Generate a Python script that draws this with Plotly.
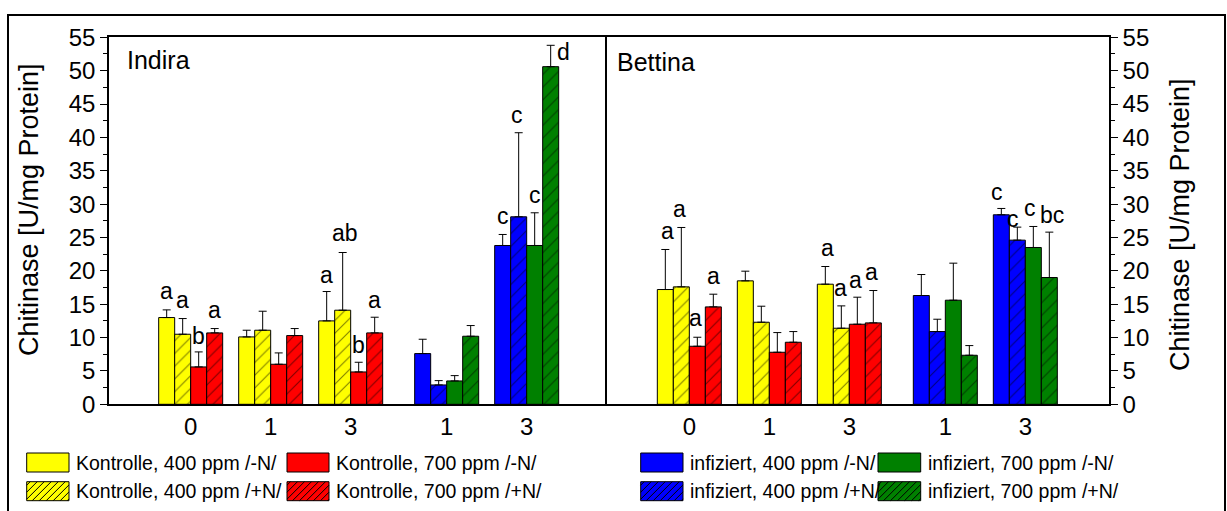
import plotly.graph_objects as go

W, H = 1227, 511
FONT = "Arial, Liberation Sans, sans-serif"

# x positions of the sampling groups (days), control and infected blocks
ctrl_pos = [1.0, 2.0, 3.0]
inf_pos = [4.2, 5.2]
tick_pos = ctrl_pos + inf_pos
tick_text = ["0", "1", "3", "1", "3"]

series_names = [
    "Kontrolle, 400 ppm /-N/", "Kontrolle, 400 ppm /+N/",
    "Kontrolle, 700 ppm /-N/", "Kontrolle, 700 ppm /+N/",
    "infiziert, 400 ppm /-N/", "infiziert, 400 ppm /+N/",
    "infiziert, 700 ppm /-N/", "infiziert, 700 ppm /+N/",
]
series_colors = ["#FFFF00", "#FFFF00", "#FF0000", "#FF0000",
                 "#0000FF", "#0000FF", "#008000", "#008000"]
series_hatched = [False, True, False, True, False, True, False, True]

# ---- Indira ----
ind_k400_mN = [13.0, 10.1, 12.5]
ind_k400_mN_err = [1.15, 1.0, 4.4]
ind_k400_pN = [10.5, 11.1, 14.1]
ind_k400_pN_err = [2.35, 2.85, 8.65]
ind_k700_mN = [5.6, 6.0, 4.85]
ind_k700_mN_err = [2.25, 1.7, 1.45]
ind_k700_pN = [10.7, 10.3, 10.7]
ind_k700_pN_err = [0.65, 1.05, 2.35]
ind_i400_mN = [7.6, 23.8]
ind_i400_mN_err = [2.15, 1.65]
ind_i400_pN = [2.9, 28.1]
ind_i400_pN_err = [0.65, 12.6]
ind_i700_mN = [3.5, 23.8]
ind_i700_mN_err = [0.8, 4.9]
ind_i700_pN = [10.2, 50.6]
ind_i700_pN_err = [1.6, 3.2]

# ---- Bettina ----
bet_k400_mN = [17.2, 18.5, 18.0]
bet_k400_mN_err = [6.0, 1.45, 2.65]
bet_k400_pN = [17.6, 12.3, 11.4]
bet_k400_pN_err = [8.9, 2.4, 3.35]
bet_k700_mN = [8.7, 7.8, 12.0]
bet_k700_mN_err = [1.35, 2.95, 4.05]
bet_k700_pN = [14.6, 9.3, 12.2]
bet_k700_pN_err = [1.9, 1.6, 4.85]
bet_i400_mN = [16.3, 28.4]
bet_i400_mN_err = [3.15, 0.95]
bet_i400_pN = [10.9, 24.6]
bet_i400_pN_err = [1.85, 1.95]
bet_i700_mN = [15.6, 23.5]
bet_i700_mN_err = [5.55, 3.15]
bet_i700_pN = [7.35, 19.0]
bet_i700_pN_err = [1.45, 6.8]

indira = [
    (ind_k400_mN, ind_k400_mN_err), (ind_k400_pN, ind_k400_pN_err),
    (ind_k700_mN, ind_k700_mN_err), (ind_k700_pN, ind_k700_pN_err),
    (ind_i400_mN, ind_i400_mN_err), (ind_i400_pN, ind_i400_pN_err),
    (ind_i700_mN, ind_i700_mN_err), (ind_i700_pN, ind_i700_pN_err),
]
bettina = [
    (bet_k400_mN, bet_k400_mN_err), (bet_k400_pN, bet_k400_pN_err),
    (bet_k700_mN, bet_k700_mN_err), (bet_k700_pN, bet_k700_pN_err),
    (bet_i400_mN, bet_i400_mN_err), (bet_i400_pN, bet_i400_pN_err),
    (bet_i700_mN, bet_i700_mN_err), (bet_i700_pN, bet_i700_pN_err),
]

# significance letters: (panel, group index, bar slot, text, y, x shift px)
letters = [
    (0, 0, 0, "a", 16.7, 0), (0, 0, 1, "a", 15.4, 0), (0, 0, 2, "b", 9.9, 0), (0, 0, 3, "a", 13.9, 0),
    (0, 2, 0, "a", 19.1, 0), (0, 2, 1, "ab", 25.4, 2), (0, 2, 2, "b", 8.6, 0), (0, 2, 3, "a", 15.4, 0),
    (0, 4, 0, "c", 27.9, 0), (0, 4, 1, "c", 43.1, -2), (0, 4, 2, "c", 31.1, 0), (0, 4, 3, "d", 52.5, 13),
    (1, 0, 0, "a", 25.6, 2), (1, 0, 1, "a", 28.9, -2), (1, 0, 2, "a", 12.6, -2), (1, 0, 3, "a", 18.9, 0),
    (1, 2, 0, "a", 23.1, 2), (1, 2, 1, "a", 17.1, -1), (1, 2, 2, "a", 18.4, -2), (1, 2, 3, "a", 19.6, -2),
    (1, 4, 0, "c", 31.5, -4), (1, 4, 1, "c", 27.5, -4), (1, 4, 2, "c", 29.1, -3), (1, 4, 3, "bc", 28.1, 3),
]
slot_offset = [-0.3, -0.1, 0.1, 0.3]


def px_x(p):
    return p / W


def px_y(p):
    return 1 - p / H


fig = go.Figure()

for panel, data, xa, ya in [(0, indira, "x", "y"), (1, bettina, "x2", "y2")]:
    for i, (vals, errs) in enumerate(data):
        xs = ctrl_pos if i < 4 else inf_pos
        pattern = dict(shape="/" if series_hatched[i] else "", fgcolor="black",
                       bgcolor=series_colors[i], size=9, solidity=0.12, fillmode="overlay")
        fig.add_trace(go.Bar(
            x=xs, y=vals, xaxis=xa, yaxis=ya,
            name=series_names[i], showlegend=False,
            offsetgroup=str(i % 4),
            marker=dict(color=series_colors[i], pattern=pattern,
                        line=dict(color="black", width=1)),
            error_y=dict(type="data", array=errs, arrayminus=[0] * len(errs),
                         symmetric=False, color="black", thickness=1, width=4),
        ))

annotations = []
for panel, g, slot, txt, yv, dx in letters:
    annotations.append(dict(
        x=tick_pos[g] + slot_offset[slot], y=yv,
        xref="x" if panel == 0 else "x2", yref="y" if panel == 0 else "y2",
        text=txt, showarrow=False, xanchor="center", yanchor="middle",
        xshift=dx, yshift=2, font=dict(family=FONT, size=23, color="black"),
    ))

# panel names
annotations.append(dict(x=px_x(125), y=px_y(60), xref="paper", yref="paper", text="Indira",
                        showarrow=False, xanchor="left", yanchor="middle",
                        font=dict(family=FONT, size=25, color="black")))
annotations.append(dict(x=px_x(615), y=px_y(62), xref="paper", yref="paper", text="Bettina",
                        showarrow=False, xanchor="left", yanchor="middle",
                        font=dict(family=FONT, size=25, color="black")))

# axis titles on both sides
for xc, yc in [(29, 210), (1180, 225)]:
    annotations.append(dict(x=px_x(xc), y=px_y(yc), xref="paper", yref="paper",
                            text="Chitinase [U/mg Protein]", textangle=-90, showarrow=False,
                            xanchor="center", yanchor="middle",
                            font=dict(family=FONT, size=27, color="black")))

# legend drawn as swatches with labels
shapes = []
leg_cols = [(26.7, 69.0), (287.0, 329.0), (640.7, 683.0), (878.0, 920.7)]
leg_rows = [(453.0, 472.0), (481.7, 500.7)]
legend_order = [[0, 2, 4, 6], [1, 3, 5, 7]]


def hatch_path(x0, y0, x1, y1, step=7.0):
    segs = []
    c = x0 + y0 + step / 2
    while c < x1 + y1:
        xa = max(x0, c - y1)
        xb = min(x1, c - y0)
        if xb > xa:
            segs.append("M{:.5f},{:.5f}L{:.5f},{:.5f}".format(
                px_x(xa), px_y(c - xa), px_x(xb), px_y(c - xb)))
        c += step
    return "".join(segs)


for r, (ry0, ry1) in enumerate(leg_rows):
    for cidx, (cx0, cx1) in enumerate(leg_cols):
        s = legend_order[r][cidx]
        shapes.append(dict(type="rect", xref="paper", yref="paper",
                           x0=px_x(cx0), x1=px_x(cx1), y0=px_y(ry1), y1=px_y(ry0),
                           fillcolor=series_colors[s], line=dict(color="black", width=1)))
        if series_hatched[s]:
            shapes.append(dict(type="path", xref="paper", yref="paper",
                               path=hatch_path(cx0, ry0, cx1, ry1),
                               line=dict(color="black", width=1)))
        annotations.append(dict(x=px_x(cx1 + 5), y=px_y((ry0 + ry1) / 2), xref="paper", yref="paper",
                                text=series_names[s], showarrow=False, xanchor="left",
                                yanchor="middle", font=dict(family=FONT, size=19.5, color="black")))

# outer frame
shapes.append(dict(type="rect", xref="paper", yref="paper",
                   x0=px_x(8), x1=px_x(1225), y0=px_y(530), y1=px_y(15),
                   line=dict(color="black", width=2), fillcolor="rgba(0,0,0,0)"))

ydom = [px_y(404.3), px_y(37.3)]
yaxis_common = dict(range=[0, 55], dtick=5, tick0=0, showline=True, linecolor="black",
                    linewidth=1.5, ticks="outside", ticklen=7, tickwidth=1.2, tickcolor="black",
                    minor=dict(dtick=2.5, ticks="outside", ticklen=4, tickcolor="black", tickwidth=1.2),
                    showgrid=False, zeroline=False, domain=ydom, automargin=False,
                    tickfont=dict(family=FONT, size=24, color="black"), fixedrange=True)
xaxis_common = dict(showline=True, linecolor="black", linewidth=1.5, mirror=True, automargin=False,
                    showgrid=False, zeroline=False, ticks="", tickvals=tick_pos, ticktext=tick_text,
                    tickfont=dict(family=FONT, size=24, color="black"), fixedrange=True)

fig.update_layout(
    width=W, height=H, autosize=False,
    margin=dict(l=0, r=0, t=0, b=0, pad=0),
    paper_bgcolor="white", plot_bgcolor="white",
    barmode="group", bargap=0.2, bargroupgap=0,
    showlegend=False,
    xaxis=dict(xaxis_common, domain=[px_x(109), px_x(607)], range=[-0.021, 6.204], anchor="y"),
    xaxis2=dict(xaxis_common, domain=[px_x(607), px_x(1109)], range=[-0.029, 6.246], anchor="y2"),
    yaxis=dict(yaxis_common, anchor="x", side="left", mirror=False),
    yaxis2=dict(yaxis_common, anchor="x2", side="right", mirror=True),
    # short inward ticks along the panel divider
    yaxis3=dict(range=[0, 55], dtick=2.5, tick0=0, overlaying="y2", anchor="x2", side="left",
                ticks="inside", ticklen=3, tickwidth=1.2, tickcolor="black", showticklabels=False,
                showline=False, showgrid=False, zeroline=False, automargin=False, fixedrange=True),
    annotations=annotations,
    shapes=shapes,
)

fig.write_html("out.html", config={"displayModeBar": False},
               post_script="document.body.style.margin='0';document.body.style.overflow='hidden';")
